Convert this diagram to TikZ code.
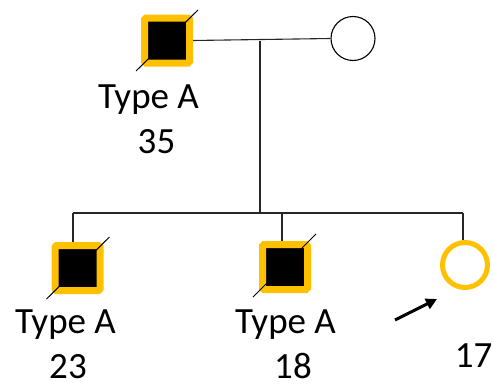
\documentclass[tikz,border=0pt]{standalone}
\usepackage{fontspec}
\setmainfont{Carlito}
\usetikzlibrary{arrows.meta,calc}
\definecolor{aff}{HTML}{FFC000}
\tikzset{
  male/.style={rectangle, draw=aff, line width=7pt, fill=black, minimum size=45pt, inner sep=0pt, rounded corners=1.5pt},
  female/.style={circle, draw=black, line width=1.1pt, minimum size=44pt, inner sep=0pt},
  proband/.style={circle, draw=aff, line width=5pt, minimum size=45pt, inner sep=0pt},
  link/.style={draw=black!85, line width=1.1pt},
  slash/.style={draw=black, line width=1pt},
  lbl/.style={anchor=base, inner sep=0pt, font=\fontsize{37}{45}\selectfont}
}
\begin{document}
\begin{tikzpicture}[x=1pt,y=-1pt]
\useasboundingbox (0,0) rectangle (493,388);
% nodes
\node[male] (f) at (167,40.5) {};
\node[female] (m) at (353,38.5) {};
\node[male] (c1) at (77.5,268) {};
\node[male] (c2) at (285,267) {};
\node[proband] (c3) at (465,265) {};
% marriage and sibship
\coordinate (mid) at (260,40.5);
\coordinate (sib) at (260,213);
\coordinate (s1) at (73,213);
\coordinate (s2) at (282,213);
\coordinate (s3) at (463,213);
\draw[link] (f.east) -- (m.west);
\draw[link] (mid) -- (sib);
\draw[link] (s1) -- (s3);
\draw[link] (s1) -- (s1 |- c1.north);
\draw[link] (s2) -- (s2 |- c2.north);
\draw[link] (s3) -- (s3 |- c3.north);
% deceased slashes
\draw[slash] (f.center) ++(-31,30.5) -- ++(62,-61);
\draw[slash] (c1.center) ++(-31,31) -- ++(63,-62);
\draw[slash] (c2.center) ++(-32,30) -- ++(63,-63);
% proband arrow
\coordinate (a0) at (395,320);
\draw[line width=3pt, -{Triangle[length=11pt,width=11pt]}] (a0) -- (437,299);
% labels
\node[lbl] (t1) at (148.5,108) {Type A};
\node[lbl] (n1) at (156.5,153) {35};
\node[lbl] (t2) at (65.5,333) {Type A};
\node[lbl] (n2) at (68,378) {23};
\node[lbl] (t3) at (285.5,333) {Type A};
\node[lbl] (n3) at (293,378) {18};
\node[lbl] (n4) at (473.5,367) {17};
\end{tikzpicture}
\end{document}
